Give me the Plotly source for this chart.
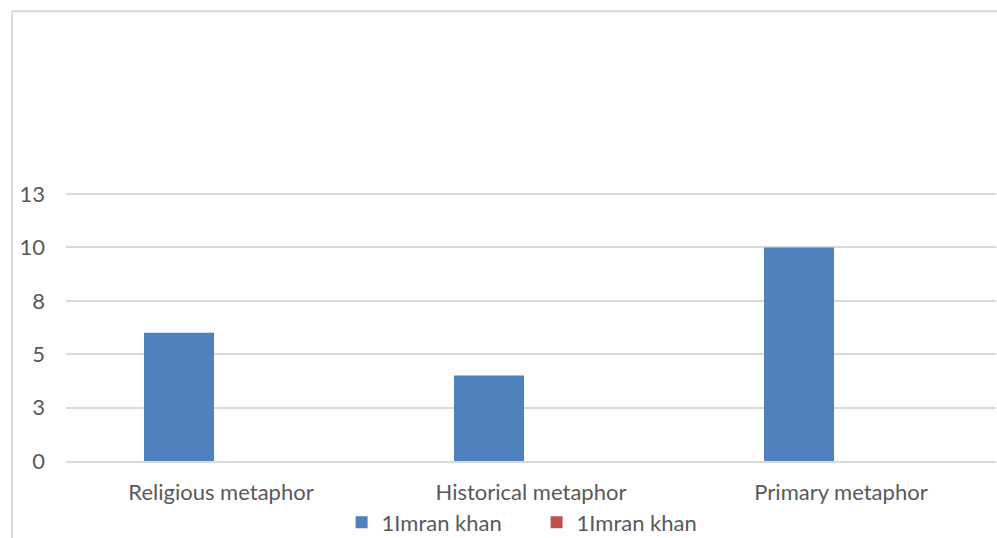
import plotly.graph_objects as go

categories = ["Religious metaphor", "Historical metaphor", "Primary metaphor"]
series_a_name = "1Imran khan"
series_a = [6, 4, 10]
series_b_name = "1Imran khan"
series_b = [0, 0, 0]
tick_vals = [0, 2.5, 5, 7.5, 10, 12.5]
tick_text = ["0", "3", "5", "8", "10", "13"]

W, H = 997, 538
L, R, T, B = 66, 1, 193, 77
pw = W - L - R
ph = H - T - B

FONT = "Lato"
TXT = "#595959"
GRID = "#d9d9d9"

bar_w = 70 / 310
fig = go.Figure()
fig.add_trace(go.Bar(x=categories, y=series_a, name=series_a_name,
                     marker=dict(color="#4F81BD", line=dict(width=0)),
                     width=bar_w, offset=-77 / 310))
fig.add_trace(go.Bar(x=categories, y=series_b, name=series_b_name,
                     marker=dict(color="#C0504D", line=dict(width=0)),
                     width=bar_w, offset=7 / 310))

# outer chart frame (light grey)
fx = (12 - L) / pw
fy = (H - B - 11.3) / ph
fig.add_shape(type="line", xref="paper", yref="paper", x0=fx, x1=fx, y0=fy, y1=-1,
              line=dict(color=GRID, width=2), layer="below")
fig.add_shape(type="line", xref="paper", yref="paper", x0=fx, x1=1.2, y0=fy, y1=fy,
              line=dict(color=GRID, width=2), layer="below")

fig.update_layout(
    width=W, height=H,
    margin=dict(l=L, r=R, t=T, b=B, autoexpand=False),
    paper_bgcolor="white", plot_bgcolor="white",
    barmode="overlay",
    font=dict(family=FONT, size=22, color=TXT),
    showlegend=True,
    legend=dict(orientation="h", x=0.506, xanchor="center", y=-0.2295, yanchor="middle",
                font=dict(family=FONT, size=22, color=TXT), entrywidth=150,
                itemwidth=30, bgcolor="rgba(0,0,0,0)"),
    xaxis=dict(range=[-0.5, 2.5], showgrid=False, zeroline=False, showline=True,
               linecolor=GRID, linewidth=1.5, ticks="", ticklabelstandoff=11,
               tickfont=dict(family=FONT, size=22, color=TXT)),
    yaxis=dict(range=[0, 12.55], tickvals=tick_vals, ticktext=tick_text,
               showgrid=True, gridcolor=GRID, gridwidth=1.5, zeroline=False,
               showline=False, ticks="", ticklabelstandoff=20,
               tickfont=dict(family=FONT, size=22, color=TXT)),
)

fig.write_html("out.html", config={"displayModeBar": False},
               post_script="document.body.style.margin='0';document.body.style.padding='0';document.body.style.overflow='hidden';")
